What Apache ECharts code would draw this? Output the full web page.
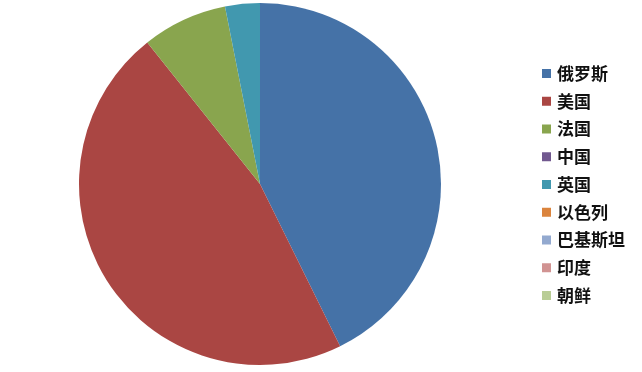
<!DOCTYPE html>
<html><head><meta charset="utf-8">
<script src="https://cdn.jsdelivr.net/npm/echarts@6/dist/echarts.min.js"></script>
<style>html,body{margin:0;padding:0;background:#fff}#c{width:642px;height:372px}</style>
</head><body><div id="c"></div>
<script>
const categories = ['俄罗斯','美国','法国','中国','英国','以色列','巴基斯坦','印度','朝鲜'];
const values = [42.7, 46.6, 7.6, 0, 3.1, 0, 0, 0, 0];
const colors = ['#4572A7','#AA4643','#89A54E','#71588F','#4198AF','#DB843D','#93A9CF','#D19392','#B9CD96'];
const chart = echarts.init(document.getElementById('c'));
chart.setOption({
  backgroundColor: '#fff',
  animation: false,
  color: colors,
  legend: {
    orient: 'vertical', left: 537, top: 60, padding: 5,
    itemWidth: 9, itemHeight: 9, itemGap: 10.75, icon: 'rect',
    textStyle: {fontFamily: 'Noto Sans CJK SC', fontSize: 17, fontWeight: 'bold', color: '#111', padding: [0,0,0,1]},
    data: categories
  },
  series: [{
    type: 'pie', center: [260, 184], radius: 181,
    startAngle: 90, clockwise: true,
    label: {show: false}, labelLine: {show: false},
    itemStyle: {borderWidth: 0},
    emphasis: {disabled: true},
    data: categories.map((n, i) => ({name: n, value: values[i]}))
  }]
});
</script></body></html>
